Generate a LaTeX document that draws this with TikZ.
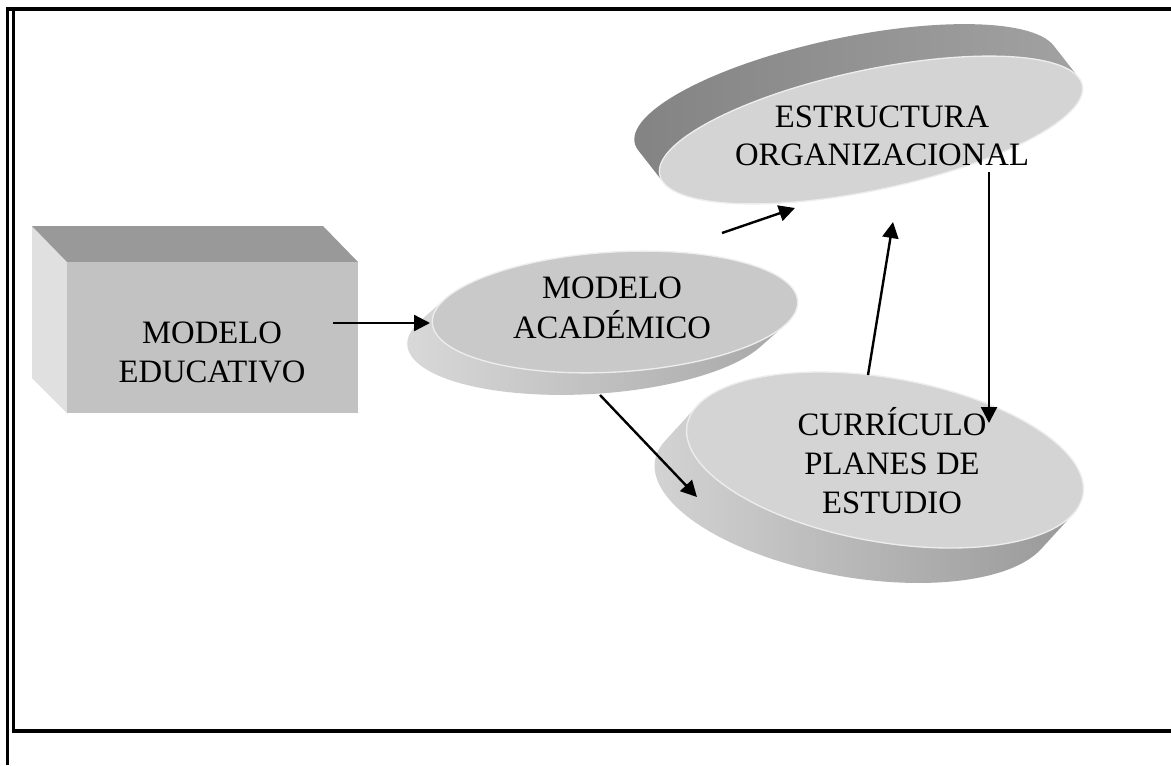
\documentclass[tikz,border=0pt]{standalone}
\usepackage{fontspec}
\setmainfont{Liberation Serif}
\usetikzlibrary{arrows.meta}
\begin{document}
\begin{tikzpicture}[x=0.75pt,y=-0.75pt,
  lbl/.style={anchor=base, inner sep=0pt, font=\fontsize{24.5pt}{29pt}\selectfont},
  conn/.style={line width=1.8pt, -{Triangle[length=12pt,width=12pt]}},
  frameline/.style={line width=2.4pt},
  topface/.style={fill=black!17, draw=black!7, line width=1pt}]
\useasboundingbox (0,0) rectangle (1171,765);
\fill[white] (0,0) rectangle (1171,765);
% page frame
\draw[frameline] (7.5,765) -- (7.5,9) -- (1171,9);
\draw[frameline] (13.5,9) -- (13.5,731) -- (1171,731);
% box: MODELO EDUCATIVO
\fill[black!12] (32,226) -- (67,262) -- (67,413) -- (32,378) -- cycle;
\fill[black!40] (32,226) -- (323,226) -- (358,262) -- (67,262) -- cycle;
\fill[black!24] (67,262) rectangle (358,413);
% ESTRUCTURA ORGANIZACIONAL disc
\begin{scope}[shift={(871,130)}, rotate=12]
  \shade[left color=black!49, right color=black!36]
    (172.3:216 and 60) -- (-231.85,-28.46)
    arc[start angle=172.3, end angle=352.3, x radius=216, y radius=60]
    -- (352.3:216 and 60)
    arc[start angle=352.3, end angle=532.3, x radius=216, y radius=60] -- cycle;
  \fill[topface] (0,0) ellipse[x radius=216, y radius=60];
\end{scope}
% MODELO ACADEMICO disc
\begin{scope}[shift={(615,312)}, rotate=3.4]
  \shade[left color=black!14, right color=black!36]
    (22.8:183 and 60) -- (142.45,43.75)
    arc[start angle=22.8, end angle=202.8, x radius=183, y radius=60]
    -- (202.8:183 and 60)
    arc[start angle=202.8, end angle=382.8, x radius=183, y radius=60] -- cycle;
  \fill[topface, fill=black!21] (0,0) ellipse[x radius=183, y radius=60];
\end{scope}
% CURRICULO disc
\begin{scope}[shift={(885,460)}, rotate=-10]
  \shade[left color=black!16, right color=black!42]
    (14.5:201 and 82) -- (169.2,60.53)
    arc[start angle=14.5, end angle=194.5, x radius=201, y radius=82]
    -- (194.5:201 and 82)
    arc[start angle=194.5, end angle=374.5, x radius=201, y radius=82] -- cycle;
  \fill[topface] (0,0) ellipse[x radius=201, y radius=82];
\end{scope}
% labels
\node[lbl] (edu1) at (212,343) {MODELO};
\node[lbl] (edu2) at (212,382) {EDUCATIVO};
\node[lbl] (aca1) at (612,298) {MODELO};
\node[lbl] (aca2) at (612,338) {ACADÉMICO};
\node[lbl] (est1) at (882,127) {ESTRUCTURA};
\node[lbl] (est2) at (882,165) {ORGANIZACIONAL};
\node[lbl] (cur1) at (892,435) {CURRÍCULO};
\node[lbl] (cur2) at (892,474) {PLANES DE};
\node[lbl] (cur3) at (892,513) {ESTUDIO};
% connector end points
\coordinate (eduOut) at (333,323);
\coordinate (acaIn) at (430,323);
\coordinate (acaOutA) at (600,395);
\coordinate (curInA) at (697,497);
\coordinate (acaOutB) at (722,233);
\coordinate (estInA) at (795,208);
\coordinate (curOut) at (868,375);
\coordinate (estInB) at (893,222);
\coordinate (estOut) at (989,172);
\coordinate (curInB) at (989,423);
% connectors
\draw[conn] (eduOut) -- (acaIn);
\draw[conn] (acaOutA) -- (curInA);
\draw[conn] (acaOutB) -- (estInA);
\draw[conn] (curOut) -- (estInB);
\draw[conn] (estOut) -- (curInB);
\end{tikzpicture}
\end{document}
